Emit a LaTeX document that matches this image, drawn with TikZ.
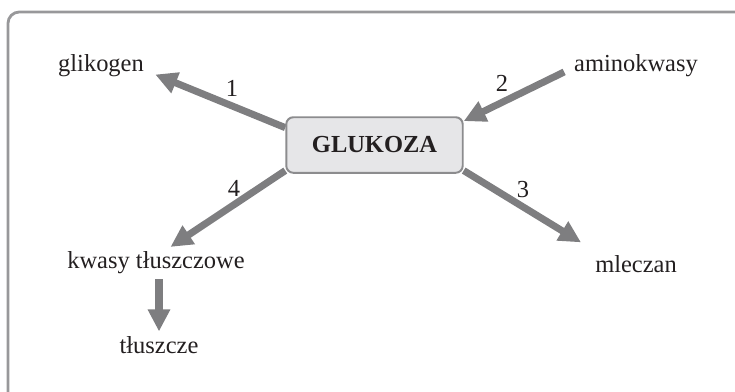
\documentclass[tikz,border=0pt]{standalone}
\usepackage{fontspec}
\setmainfont{Liberation Serif}
\usetikzlibrary{arrows.meta}
\usetikzlibrary{backgrounds}

\definecolor{framegray}{RGB}{152,152,154}
\definecolor{boxfill}{RGB}{230,230,232}
\definecolor{boxedge}{RGB}{140,140,142}
\definecolor{arrowgray}{RGB}{126,126,128}
\definecolor{inkblack}{RGB}{35,31,32}

\begin{document}
\begin{tikzpicture}[x=0.025cm,y=-0.025cm,
    % styles
    compound/.style={text=inkblack,font=\fontsize{17.4}{20}\selectfont},
    number/.style={text=inkblack,font=\fontsize{17.4}{20}\selectfont,inner sep=0pt},
    centre box/.style={text=inkblack,font=\fontsize{17.4}{20}\selectfont\bfseries,
      fill=boxfill,draw=boxedge,line width=1.4pt,rounded corners=5pt,
      minimum width=125.5pt,minimum height=39.5pt},
    path arrow/.style={draw=arrowgray,line width=5pt,
      -{Triangle[length=15.6pt,width=15pt]}}]

  % page and frame
  \useasboundingbox (0,0) rectangle (735,391);
  \clip (0,0) rectangle (735,391);
  \draw [framegray,line width=2pt,rounded corners=8pt] (8,12) rectangle (780,430);

  % glucose in the middle
  \node [centre box] (glukoza) at (374.5,145) {GLUKOZA};

  % compounds
  \node [compound] (glikogen) at (101,66) {glikogen};
  \node [compound] (aminokwasy) at (636,66) {aminokwasy};
  \node [compound] (kwasy) at (156,263) {kwasy tłuszczowe};
  \node [compound] (mleczan) at (636,264) {mleczan};
  \node [compound] (tluszcze) at (159,345) {tłuszcze};

  % arrows
  \begin{scope}[on background layer]
    \draw [path arrow,shorten >=5pt] (glukoza.169) -- (glikogen.-7);
    \draw [path arrow,shorten <=4pt] (aminokwasy.183) -- (glukoza.15);
    \draw [path arrow,shorten >=11pt] (glukoza.-16) -- (mleczan.162);
    \draw [path arrow] (glukoza.196) -- (kwasy.48);
    \draw [path arrow] (kwasy.south -| tluszcze.north) -- (tluszcze.north);
  \end{scope}

  % numbers of the paths
  \node [number] (n1) at (232,88) {1};
  \node [number] (n2) at (502,83) {2};
  \node [number] (n3) at (523,190) {3};
  \node [number] (n4) at (234,188) {4};
\end{tikzpicture}
\end{document}
